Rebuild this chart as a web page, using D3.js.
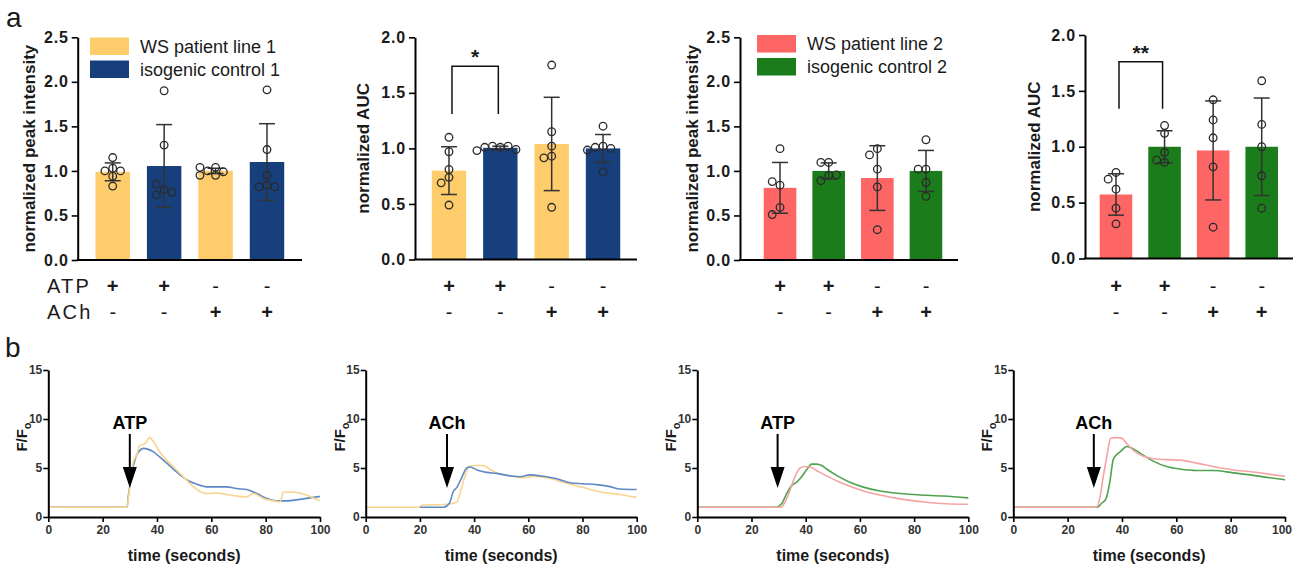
<!DOCTYPE html>
<html><head><meta charset="utf-8">
<script src="https://cdn.jsdelivr.net/npm/d3@7"></script>
<style>
body{margin:0;background:#fff;}
svg{display:block;font-family:"Liberation Sans",Arial,Helvetica,sans-serif;}
</style></head><body>
<svg id="fig" width="1293" height="564"></svg>
<script>
// ================= DATA =================
const stimRows = ["ATP", "ACh"];
const atpSigns = ["+", "+", "-", "-"];
const achSigns = ["-", "-", "+", "+"];
const legendLine1 = ["WS patient line 1", "isogenic control 1"];
const legendLine2 = ["WS patient line 2", "isogenic control 2"];
const peakTicks = [0, 0.5, 1.0, 1.5, 2.0, 2.5];
const aucTicks = [0, 0.5, 1.0, 1.5, 2.0];

// line 1: normalized peak intensity
const peak1Means = [0.99, 1.055, 1.00, 1.10];
const peak1SD = [0.10, 0.465, 0.03, 0.43];
const peak1Points = [
  [1.15, 1.03, 1.00, 1.00, 0.94, 0.83],
  [1.90, 1.29, 0.79, 0.73, 0.85, 0.76],
  [1.04, 0.95, 1.00, 0.99, 1.04, 0.95],
  [1.91, 1.24, 0.95, 0.84, 0.82, 0.82]
];
// line 1: normalized AUC
const auc1Means = [0.80, 1.005, 1.04, 1.00];
const auc1SD = [0.215, 0.015, 0.42, 0.125];
const auc1Points = [
  [1.10, 0.97, 0.81, 0.74, 0.69, 0.49],
  [1.01, 1.02, 1.02, 1.01, 0.99, 0.98],
  [1.75, 1.15, 1.02, 0.93, 0.915, 0.47],
  [1.20, 1.02, 1.01, 1.00, 0.985, 0.79]
];
const auc1Sig = {from: 0, to: 1, label: "*", top: 1.74, leg: 1.31};

// line 2: normalized peak intensity
const peak2Means = [0.81, 1.00, 0.92, 1.00];
const peak2SD = [0.285, 0.09, 0.363, 0.23];
const peak2Points = [
  [1.25, 0.84, 0.88, 0.59, 0.51],
  [1.095, 1.095, 0.95, 0.89, 0.955],
  [1.25, 1.18, 1.02, 0.82, 0.34],
  [1.35, 1.02, 1.02, 0.87, 0.715]
];
// line 2: normalized AUC
const auc2Means = [0.573, 1.00, 0.967, 1.00];
const auc2SD = [0.185, 0.143, 0.443, 0.436];
const auc2Points = [
  [0.77, 0.71, 0.62, 0.45, 0.31],
  [1.19, 1.12, 0.95, 0.86, 0.88],
  [1.42, 1.24, 1.08, 0.82, 0.28],
  [1.59, 1.20, 1.00, 0.74, 0.45]
];
const auc2Sig = {from: 0, to: 1, label: "**", top: 1.76, leg: 1.34};

// time courses (F/Fo)
const fTicks = [0, 5, 10, 15];
const timeTicks = [0, 20, 40, 60, 80, 100];

const atp1WsTime = [0, 29, 29.5, 31.3, 32.5, 33.7, 35, 36.2, 37.2, 38.7, 41.1, 43.6, 47.2, 49.7, 53.4, 55.8, 58.3, 62, 65.6, 68, 73, 75.5, 79, 82.8, 85.3, 86.5, 89, 92.6, 96.3, 100];
const atp1WsF    = [1.0, 1.0, 2.0, 5.6, 6.3, 7.3, 7.4, 7.7, 8.1, 7.7, 6.6, 5.8, 4.8, 4.1, 3.1, 2.6, 2.4, 2.45, 2.3, 2.2, 2.05, 2.4, 1.9, 1.65, 1.55, 2.55, 2.55, 2.45, 2.1, 1.65];
const atp1CtlTime = [0, 29, 29.4, 30.7, 32.5, 33.7, 35, 36.8, 38.7, 41.1, 43.6, 47.2, 50.9, 54.6, 58.3, 62, 65.6, 69.3, 73, 76.7, 80.4, 84, 87.7, 92.6, 97.5, 100];
const atp1CtlF    = [1.0, 1.0, 2.0, 4.4, 6.3, 6.8, 7.0, 6.9, 6.65, 6.1, 5.5, 4.6, 3.8, 3.35, 3.07, 3.07, 3.07, 2.9, 2.8, 2.4, 1.9, 1.65, 1.65, 1.8, 2.0, 2.1];

const ach1WsTime = [0, 20, 20.5, 30, 33.6, 34.8, 36.7, 38.5, 41, 43.4, 45.9, 48.3, 53.3, 58.2, 61.9, 66.8, 72.9, 80.3, 87.7, 93.8, 100];
const ach1WsF    = [1.0, 1.0, 1.2, 1.3, 1.5, 2.45, 4.2, 5.2, 5.25, 5.25, 4.85, 4.5, 4.2, 4.0, 4.15, 4.0, 3.55, 3.0, 2.5, 2.3, 2.0];
const ach1CtlTime = [20, 28.7, 30.9, 32.3, 33.6, 35.4, 37.3, 38.5, 41, 44.6, 48.3, 53.3, 57, 60.6, 65.6, 70.5, 75.4, 80.3, 85.2, 90.2, 93.8, 100];
const ach1CtlF    = [1.0, 1.0, 1.4, 2.6, 3.0, 4.0, 5.0, 5.1, 4.8, 4.55, 4.45, 4.2, 4.1, 4.3, 4.15, 3.9, 3.5, 3.4, 3.3, 3.1, 2.85, 2.8];

const atp2WsTime = [0, 31, 32.3, 34.2, 36, 37.9, 39.7, 41.6, 44, 47.7, 52.6, 57.6, 62.5, 69.9, 77.2, 84.6, 92, 100];
const atp2WsF    = [1.0, 1.0, 1.5, 2.7, 4.1, 5.0, 5.15, 5.1, 4.75, 4.2, 3.55, 3.0, 2.55, 2.1, 1.75, 1.5, 1.35, 1.3];
const atp2CtlTime = [0, 29, 31.1, 33, 34.8, 36.7, 38.5, 40.3, 42.2, 44, 45.9, 47.7, 51.4, 56.3, 61.3, 67.4, 74.8, 82.2, 90.8, 100];
const atp2CtlF    = [1.0, 1.0, 1.35, 2.4, 3.2, 3.55, 4.1, 4.8, 5.4, 5.4, 5.25, 4.9, 4.25, 3.55, 3.05, 2.65, 2.4, 2.25, 2.15, 1.95];

const ach2WsTime = [0, 30.5, 31.9, 33.1, 34.4, 35.8, 37.4, 39.9, 41.7, 44.2, 47.9, 51.5, 56.4, 61.3, 67.5, 73.6, 81, 88.3, 94.5, 100];
const ach2WsF    = [1.0, 1.0, 2.0, 4.1, 6.1, 8.0, 8.1, 8.05, 7.5, 6.8, 6.2, 5.95, 5.85, 5.8, 5.5, 5.15, 4.8, 4.6, 4.35, 4.15];
const ach2CtlTime = [0, 31, 32.5, 34.1, 35.6, 36.8, 38, 39.5, 41.7, 44.2, 47.9, 51.5, 56.4, 61.3, 67.5, 73.6, 81, 88.3, 94.5, 100];
const ach2CtlF    = [1.0, 1.0, 1.4, 1.85, 3.7, 5.9, 6.35, 6.7, 7.2, 6.95, 6.3, 5.7, 5.15, 4.9, 4.75, 4.75, 4.5, 4.25, 4.0, 3.8];

const stimTime = 30;

// ================= STYLE =================
const C = {
  yellow: "#FECC6B", navy: "#173F7C", red: "#FE6565", green: "#1B7C1B",
  yellowLine: "#F8D58E", blueLine: "#5E89C6", redLine: "#F6A3A3", greenLine: "#4FA24F",
  ink: "#1a1a1a", err: "#333"
};
const W = 1293;
const svg = d3.select("#fig");

// panel letters
svg.append("text").attr("x", 6).attr("y", 27).attr("font-size", 28).attr("fill", C.ink).text("a");
svg.append("text").attr("x", 5).attr("y", 357).attr("font-size", 28).attr("fill", C.ink).text("b");

function styleAxis(g, w) {
  g.select(".domain").attr("stroke", "#000").attr("stroke-width", w);
  g.selectAll(".tick line").attr("stroke", "#000").attr("stroke-width", w * 0.8);
}

function barPanel(cfg) {
  const g = svg.append("g");
  const y = d3.scaleLinear().domain([0, cfg.max]).range([cfg.y0, cfg.y1]);
  const x = d3.scaleBand().domain(d3.range(cfg.means.length)).range(cfg.band)
    .paddingInner(0.33).paddingOuter(0.165);
  const bw = x.bandwidth();
  const cx = i => x(i) + bw / 2;

  // bars
  g.selectAll("rect.bar").data(cfg.means).join("rect").attr("class", "bar")
    .attr("x", (d, i) => x(i)).attr("y", d => y(d))
    .attr("width", bw).attr("height", d => y(0) - y(d))
    .attr("fill", (d, i) => cfg.colors[i % 2]);

  // error bars (mean ± SD)
  const capW = 8;
  cfg.means.forEach((m, i) => {
    const sd = cfg.sd[i];
    const eg = g.append("g").attr("stroke", C.err).attr("stroke-width", 1.5);
    eg.append("line").attr("x1", cx(i)).attr("x2", cx(i)).attr("y1", y(m - sd)).attr("y2", y(m + sd));
    eg.append("line").attr("x1", cx(i) - capW).attr("x2", cx(i) + capW).attr("y1", y(m + sd)).attr("y2", y(m + sd));
    eg.append("line").attr("x1", cx(i) - capW).attr("x2", cx(i) + capW).attr("y1", y(m - sd)).attr("y2", y(m - sd));
  });

  // individual points with simple collision-avoiding offsets
  const r = 3.8, step = 7.8, offs = [0, -1, 1, -2, 2, -3, 3];
  cfg.points.forEach((pts, i) => {
    const placed = [];
    pts.forEach(v => {
      const py = y(v);
      let px = cx(i);
      for (const o of offs) {
        const cand = cx(i) + o * step;
        if (placed.every(p => Math.hypot(p[0] - cand, p[1] - py) >= 2 * r)) { px = cand; break; }
      }
      placed.push([px, py]);
    });
    g.selectAll(null).data(placed).join("circle")
      .attr("cx", d => d[0]).attr("cy", d => d[1]).attr("r", r)
      .attr("fill", "none").attr("stroke", "#2a2a2a").attr("stroke-width", 1.3);
  });

  // y axis
  const ya = g.append("g").attr("transform", `translate(${cfg.x0},0)`)
    .call(d3.axisLeft(y).tickValues(cfg.ticks).tickFormat(d3.format(".1f")).tickSize(6).tickSizeOuter(0).tickPadding(3));
  styleAxis(ya, 2);
  ya.selectAll(".tick text").attr("font-size", 16).attr("font-weight", "bold")
    .attr("fill", C.ink).attr("letter-spacing", 0.8).attr("font-family", "Liberation Sans, Arial, sans-serif");
  // x axis baseline
  g.append("line").attr("x1", cfg.x0 - 1).attr("x2", cfg.x1).attr("y1", y(0)).attr("y2", y(0))
    .attr("stroke", "#000").attr("stroke-width", 2);

  // y label
  g.append("text").attr("transform", `translate(${cfg.labelX},${(y(0) + y(cfg.max)) / 2}) rotate(-90)`)
    .attr("text-anchor", "middle").attr("font-size", 17).attr("font-weight", "bold").attr("fill", C.ink)
    .text(cfg.ylabel);

  // stimulus sign rows
  [atpSigns, achSigns].forEach((row, k) => {
    g.selectAll(null).data(row).join("text")
      .attr("x", (d, i) => cx(i)).attr("y", 293 + k * 26)
      .attr("text-anchor", "middle").attr("font-size", 20).attr("fill", C.ink)
      .attr("font-weight", d => d === "+" ? "bold" : "normal")
      .text(d => d);
  });

  // legend
  if (cfg.legend) {
    cfg.legend.names.forEach((n, k) => {
      g.append("rect").attr("x", cfg.legend.x).attr("y", cfg.legend.y + k * 23)
        .attr("width", 39).attr("height", 17.5).attr("fill", cfg.colors[k]);
      g.append("text").attr("x", cfg.legend.x + 50).attr("y", cfg.legend.y + k * 23 + 15)
        .attr("font-size", 18).attr("fill", C.ink).text(n);
    });
  }

  // significance bracket
  if (cfg.sig) {
    const s = cfg.sig;
    const xa = cx(s.from) + 3, xb = cx(s.to) - 2;
    g.append("path").attr("d", `M${xa},${y(s.leg)}V${y(s.top)}H${xb}V${y(s.leg)}`)
      .attr("fill", "none").attr("stroke", "#111").attr("stroke-width", 1.5);
    g.append("text").attr("x", (xa + xb) / 2).attr("y", y(s.top) - 2)
      .attr("text-anchor", "middle").attr("font-size", 21).attr("font-weight", "bold").attr("fill", C.ink)
      .text(s.label);
  }
  return g;
}

// row labels
stimRows.forEach((t, k) => {
  svg.append("text").attr("x", 47).attr("y", 293 + k * 26).attr("font-size", 20)
    .attr("fill", C.ink).attr("letter-spacing", 2.2).text(t);
});

barPanel({means: peak1Means, sd: peak1SD, points: peak1Points, colors: [C.yellow, C.navy],
  max: 2.5, ticks: peakTicks, y0: 260, y1: 37.3, x0: 77.7, x1: 302, band: [87, 292.7],
  labelX: 35, ylabel: "normalized peak intensity",
  legend: {names: legendLine1, x: 90, y: 37.5}});
barPanel({means: auc1Means, sd: auc1SD, points: auc1Points, colors: [C.yellow, C.navy],
  max: 2.0, ticks: aucTicks, y0: 259.5, y1: 37.3, x0: 415, x1: 637, band: [423.3, 628.7],
  labelX: 369, ylabel: "normalized AUC", sig: auc1Sig});
barPanel({means: peak2Means, sd: peak2SD, points: peak2Points, colors: [C.red, C.green],
  max: 2.5, ticks: peakTicks, y0: 260, y1: 37.3, x0: 740, x1: 958, band: [755.7, 950.3],
  labelX: 698, ylabel: "normalized peak intensity",
  legend: {names: legendLine2, x: 757, y: 35}});
barPanel({means: auc2Means, sd: auc2SD, points: auc2Points, colors: [C.red, C.green],
  max: 2.0, ticks: aucTicks, y0: 258.5, y1: 35, x0: 1085, x1: 1293, band: [1091.7, 1286],
  labelX: 1040, ylabel: "normalized AUC", sig: auc2Sig});

// ---------- time course panels ----------
function tracePanel(cfg) {
  const g = svg.append("g");
  const x = d3.scaleLinear().domain([0, 100]).range([cfg.x0, cfg.x1]);
  const y = d3.scaleLinear().domain([0, 15]).range([517, 370]);
  const line = d3.line().x(d => x(d[0])).y(d => y(d[1])).curve(d3.curveMonotoneX);
  cfg.series.forEach(s => {
    g.append("path").datum(d3.zip(s.t, s.f)).attr("d", line)
      .attr("fill", "none").attr("stroke", s.color).attr("stroke-width", 1.6);
  });
  const xa = g.append("g").attr("transform", `translate(0,${y(0)})`)
    .call(d3.axisBottom(x).tickValues(timeTicks).tickSize(5).tickSizeOuter(0).tickPadding(3));
  const ya = g.append("g").attr("transform", `translate(${cfg.x0},0)`)
    .call(d3.axisLeft(y).tickValues(fTicks).tickSize(5).tickSizeOuter(0).tickPadding(1));
  [xa, ya].forEach(a => {
    styleAxis(a, 2);
    a.selectAll(".tick text").attr("font-size", 12).attr("font-weight", "bold").attr("fill", "#333")
      .attr("font-family", "Liberation Sans, Arial, sans-serif");
  });
  // keep a tick label that would run past the page edge inside it
  xa.selectAll(".tick text").each(function () {
    const b = this.getBBox();
    const t = d3.select(this.parentNode).attr("transform");
    const tx = +t.match(/translate\(([-\d.]+)/)[1];
    if (tx + b.x + b.width > W - 1) d3.select(this).attr("text-anchor", "end").attr("x", W - 1 - tx);
  });
  // axis titles
  g.append("text").attr("x", (cfg.x0 + cfg.x1) / 2).attr("y", 561).attr("text-anchor", "middle")
    .attr("font-size", 16).attr("font-weight", "bold").attr("fill", C.ink).text("time (seconds)");
  const yl = g.append("text").attr("transform", `translate(${cfg.x0 - 21},437) rotate(-90)`)
    .attr("text-anchor", "middle").attr("font-size", 15).attr("font-weight", "bold").attr("fill", C.ink);
  yl.append("tspan").text("F/F");
  yl.append("tspan").attr("font-size", 11).attr("dy", 4).text("o");
  // stimulus arrow
  const ax = x(stimTime) + cfg.arrowDx;
  g.append("text").attr("x", ax).attr("y", 429).attr("text-anchor", "middle")
    .attr("font-size", 18).attr("font-weight", "bold").attr("fill", "#000").text(cfg.stim);
  g.append("line").attr("x1", ax).attr("x2", ax).attr("y1", 434).attr("y2", 470)
    .attr("stroke", "#000").attr("stroke-width", 2);
  g.append("path").attr("d", `M${ax - 7},467H${ax + 7}L${ax},488Z`).attr("fill", "#000");
}

tracePanel({x0: 48.3, x1: 320, stim: "ATP", arrowDx: 0,
  series: [{t: atp1CtlTime, f: atp1CtlF, color: C.blueLine}, {t: atp1WsTime, f: atp1WsF, color: C.yellowLine}]});
tracePanel({x0: 365.7, x1: 636.7, stim: "ACh", arrowDx: 0,
  series: [{t: ach1WsTime, f: ach1WsF, color: C.yellowLine}, {t: ach1CtlTime, f: ach1CtlF, color: C.blueLine}]});
tracePanel({x0: 697.3, x1: 968.3, stim: "ATP", arrowDx: -1,
  series: [{t: atp2CtlTime, f: atp2CtlF, color: C.greenLine}, {t: atp2WsTime, f: atp2WsF, color: C.redLine}]});
tracePanel({x0: 1013.3, x1: 1285, stim: "ACh", arrowDx: -1,
  series: [{t: ach2CtlTime, f: ach2CtlF, color: C.greenLine}, {t: ach2WsTime, f: ach2WsF, color: C.redLine}]});
</script>
</body></html>
